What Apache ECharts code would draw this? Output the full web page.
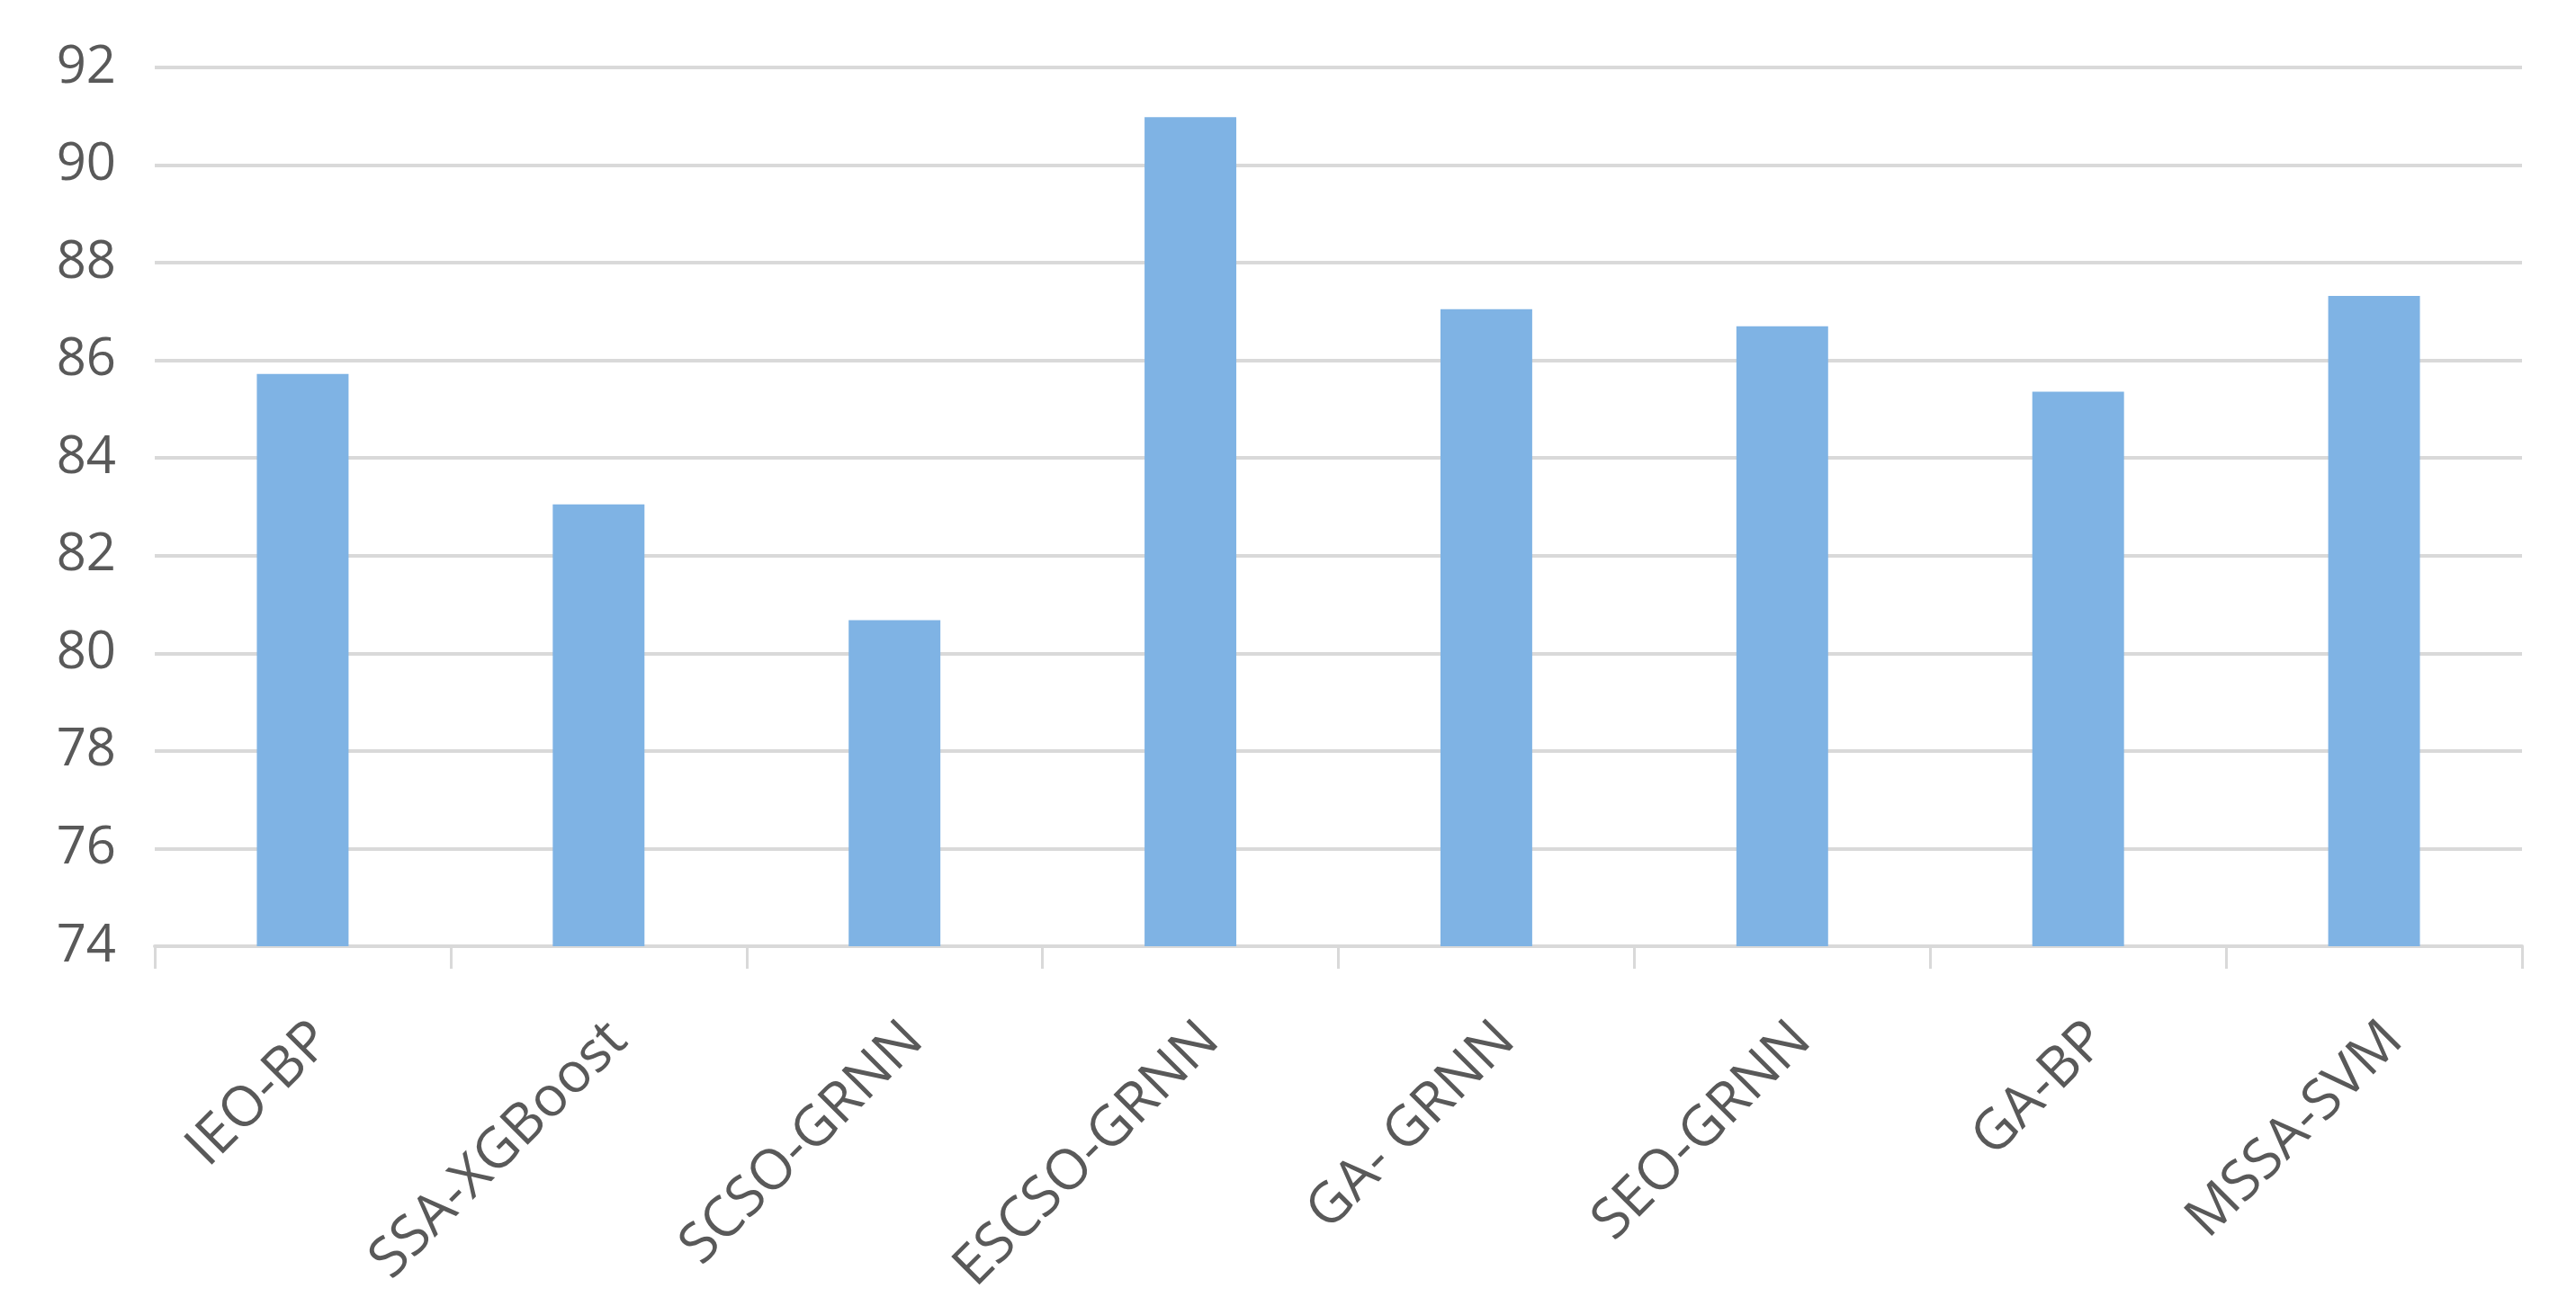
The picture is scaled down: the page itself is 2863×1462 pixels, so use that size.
<!DOCTYPE html>
<html>
<head>
<meta charset="utf-8">
<script src="https://cdn.jsdelivr.net/npm/echarts@6/dist/echarts.min.js"></script>
<style>
html,body{margin:0;padding:0;background:#fff;}
#chart{width:2863px;height:1462px;}
</style>
</head>
<body>
<div id="chart"></div>
<script>
const categories = ['IEO-BP', 'SSA-XGBoost', 'SCSO-GRNN', 'ESCSO-GRNN', 'GA- GRNN', 'SEO-GRNN', 'GA-BP', 'MSSA-SVM'];
const values = [85.72, 83.05, 80.68, 90.98, 87.05, 86.70, 85.36, 87.32];
const yMin = 74, yMax = 92, yStep = 2;

const chart = echarts.init(document.getElementById('chart'));
chart.setOption({
  animation: false,
  backgroundColor: '#ffffff',
  grid: { left: 172, right: 60, top: 75, bottom: 410 },
  xAxis: {
    type: 'category',
    data: categories,
    axisLine: { show: true, lineStyle: { color: '#D9D9D9', width: 4 } },
    axisTick: { show: true, length: 25, lineStyle: { color: '#D9D9D9', width: 3 } },
    axisLabel: {
      rotate: 45,
      margin: 73,
      verticalAlign: 'top',
      color: '#595959',
      fontFamily: 'Open Sans',
      fontSize: 62
    }
  },
  yAxis: {
    type: 'value',
    min: yMin, max: yMax, interval: yStep,
    axisLine: { show: false },
    axisTick: { show: false },
    axisLabel: {
      color: '#595959',
      fontFamily: 'Open Sans',
      fontSize: 58,
      margin: 43
    },
    splitLine: { lineStyle: { color: '#D9D9D9', width: 4 } }
  },
  series: [{
    type: 'bar',
    data: values,
    barWidth: '31%',
    itemStyle: { color: '#7FB3E4' }
  }]
});
</script>
</body>
</html>
